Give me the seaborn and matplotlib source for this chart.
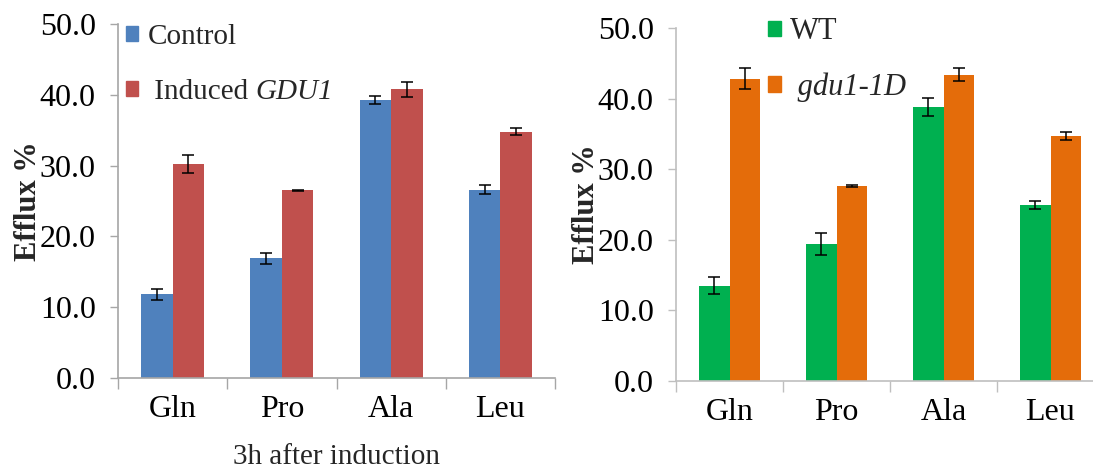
import numpy as np
import pandas as pd
import matplotlib
matplotlib.use("Agg")
import matplotlib.pyplot as plt
import seaborn as sns
from matplotlib.patches import Patch
from matplotlib.ticker import FormatStrFormatter, FixedLocator

# ---- data ----
categories = ["Gln", "Pro", "Ala", "Leu"]

left_series = ["Control", "Induced GDU1"]
control_vals = [11.8, 16.9, 39.3, 26.6]
control_err = [0.8, 0.75, 0.6, 0.65]
induced_vals = [30.2, 26.5, 40.8, 34.8]
induced_err = [1.3, 0.1, 1.05, 0.5]

right_series = ["WT", "gdu1-1D"]
wt_vals = [13.5, 19.4, 38.8, 24.9]
wt_err = [1.2, 1.6, 1.3, 0.6]
gdu_vals = [42.8, 27.6, 43.4, 34.7]
gdu_err = [1.5, 0.1, 0.95, 0.6]

left_colors = ["#4F81BD", "#C0504D"]
right_colors = ["#00B050", "#E46C0A"]

sns.set_theme(style="white")
plt.rcParams["font.family"] = ["Liberation Serif", "DejaVu Serif"]

FS = 23

fig = plt.figure(figsize=(10.93, 4.72), dpi=100)
axL = fig.add_axes([118 / 1093, 1 - 378 / 472, 437 / 1093, 354 / 472])
axR = fig.add_axes([676 / 1093, 1 - 381 / 472, 428 / 1093, 353 / 472])


def draw(ax, series, vals, errs, colors, spine_color):
    df = pd.DataFrame({
        "cat": categories * 2,
        "grp": [series[0]] * 4 + [series[1]] * 4,
        "val": list(vals[0]) + list(vals[1]),
    })
    sns.barplot(data=df, x="cat", y="val", hue="grp", hue_order=series,
                order=categories, palette=colors, width=0.575, gap=0,
                errorbar=None, legend=False, ax=ax, linewidth=0, saturation=1)
    allerr = list(errs[0]) + list(errs[1])
    for p, e in zip(ax.patches, allerr):
        xc = p.get_x() + p.get_width() / 2
        ax.errorbar(xc, p.get_height(), yerr=e, fmt="none", ecolor="black",
                    elinewidth=1.1, capsize=4, capthick=1.1)
    ax.set_ylim(0, 50)
    ax.set_xlim(-0.5, 3.5)
    ax.set_yticks(np.arange(0, 51, 10))
    ax.yaxis.set_major_formatter(FormatStrFormatter("%.1f"))
    ax.set_xticks(range(len(categories)))
    ax.set_xticklabels(categories)
    ax.xaxis.set_minor_locator(FixedLocator(np.arange(-0.5, 4.0, 1.0)))
    ax.tick_params(axis="x", which="major", length=0, labelsize=FS, pad=12, colors="black")
    ax.tick_params(axis="x", which="minor", length=8, width=1, color=spine_color, direction="out", bottom=True)
    ax.tick_params(axis="y", length=6, width=1, color=spine_color, direction="out", left=True,
                   labelsize=FS, pad=10, labelcolor="black")
    for s in ["top", "right"]:
        ax.spines[s].set_visible(False)
    for s in ["left", "bottom"]:
        ax.spines[s].set_color(spine_color)
        ax.spines[s].set_linewidth(1.2)
    ax.set_ylabel("Efflux %", fontsize=FS - 1, fontweight="bold", labelpad=-2)
    ax.set_xlabel("")


draw(axL, left_series, [control_vals, induced_vals], [control_err, induced_err], left_colors, "#A6A6A6")
draw(axR, right_series, [wt_vals, gdu_vals], [wt_err, gdu_err], right_colors, "#BFBFBF")
axL.set_xlabel("3h after induction", fontsize=21, labelpad=15)

hsz = 0.42
LFS = 21
legL = axL.legend(handles=[Patch(color=left_colors[0]), Patch(color=left_colors[1])],
                  labels=["Control", " Induced "],
                  loc="upper left", bbox_to_anchor=(0.018, 1.0), frameon=False,
                  fontsize=LFS, handlelength=hsz, handleheight=hsz, handletextpad=0.32,
                  labelspacing=1.0, borderaxespad=0, borderpad=0)
gtxt = legL.get_texts()[1]
axL.annotate("GDU1", xy=(1, 0), xycoords=gtxt, ha="left", va="bottom",
             fontsize=LFS, fontstyle="italic", annotation_clip=False, zorder=10)

legR = axR.legend(handles=[Patch(color=right_colors[0]), Patch(color=right_colors[1])],
                  labels=["WT", " gdu1-1D"],
                  loc="upper left", bbox_to_anchor=(0.215, 1.03), frameon=False,
                  fontsize=22, handlelength=hsz, handleheight=hsz, handletextpad=0.3,
                  labelspacing=0.85, borderaxespad=0, borderpad=0)
legR.get_texts()[1].set_fontstyle("italic")

fig.savefig("out.png", dpi=100)
